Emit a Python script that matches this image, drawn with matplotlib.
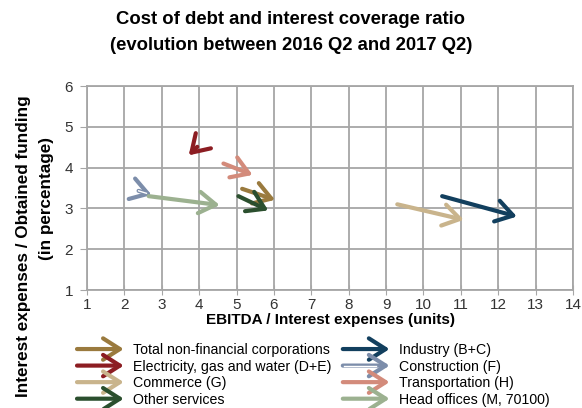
import matplotlib
matplotlib.use("Agg")
import matplotlib.pyplot as plt
from matplotlib.patches import FancyArrowPatch
from matplotlib.legend_handler import HandlerBase
from matplotlib.lines import Line2D

plt.rcParams['font.family'] = ['Liberation Sans Narrow', 'Liberation Sans', 'DejaVu Sans']

# sectors: start (2016 Q2) -> end (2017 Q2)
sectors = ["Total non-financial corporations", "Electricity, gas and water (D+E)",
           "Commerce (G)", "Other services",
           "Industry (B+C)", "Construction (F)",
           "Transportation (H)", "Head offices (M, 70100)"]
colors = ["#9A7A3E", "#8C1D22", "#C9B48C", "#2B4F2E",
          "#123F5E", "#7C8DAA", "#D38B7B", "#9CB190"]
x_start = [5.15, 3.95, 9.3, 5.05, 10.5, 2.38, 4.65, 2.65]
y_start = [3.48, 4.51, 3.1, 3.3, 3.3, 3.43, 4.1, 3.3]
x_end = [6.03, 3.72, 11.08, 5.85, 12.5, 2.73, 5.43, 4.55]
y_end = [3.21, 4.3, 2.72, 2.95, 2.8, 3.33, 3.82, 3.08]
hollow = [False, False, False, False, False, True, False, False]

ARROW = "->,head_length=0.55,head_width=0.35"
MS = 22
LW = 3.0


class ArrowHandler(HandlerBase):
    def create_artists(self, legend, orig_handle, xdescent, ydescent,
                       width, height, fontsize, trans):
        y = height / 2 - ydescent
        x0, x1 = -xdescent, -xdescent + width
        arr = FancyArrowPatch((x0, y), (x1, y), arrowstyle=ARROW, mutation_scale=MS,
                              lw=LW, color=orig_handle.get_edgecolor(),
                              shrinkA=0, shrinkB=0, transform=trans)
        out = [arr]
        if getattr(orig_handle, "hollow", False):
            out.append(Line2D([x0 + 1, x1 - 10], [y, y], color="white", lw=1.0, transform=trans))
        return out


fig = plt.figure(figsize=(5.82, 4.08), dpi=100)
ax = fig.add_axes([87 / 582, 1 - 290 / 408, (573 - 87) / 582, (290 - 86) / 408])

handles = []
for i, name in enumerate(sectors):
    ax.annotate("", xy=(x_end[i], y_end[i]), xytext=(x_start[i], y_start[i]),
                arrowprops=dict(arrowstyle=ARROW, mutation_scale=MS, lw=LW,
                                color=colors[i], shrinkA=0, shrinkB=0))
    if hollow[i]:
        ax.plot([x_start[i], x_start[i] + 0.6 * (x_end[i] - x_start[i])],
                [y_start[i], y_start[i] + 0.6 * (y_end[i] - y_start[i])],
                color="white", lw=1.0, zorder=5)
    h = FancyArrowPatch((0, 0), (1, 0), color=colors[i])
    h.hollow = hollow[i]
    handles.append(h)

ax.set_xlim(1, 14)
ax.set_ylim(1, 6)
ax.set_xticks(range(1, 15))
ax.set_yticks(range(1, 7))
ax.grid(True, color="#A6A6A6", lw=1.3)
ax.set_axisbelow(True)
for s in ax.spines.values():
    s.set_color("#A6A6A6")
    s.set_linewidth(1.3)
ax.tick_params(axis="x", direction="inout", length=7, color="#A6A6A6", labelsize=11,
               labelcolor="#333333", pad=2)
ax.tick_params(axis="y", direction="out", length=5, color="#A6A6A6", labelsize=11,
               labelcolor="#333333", pad=5)

ax.set_xlabel("EBITDA / Interest expenses (units)", fontsize=11, fontweight="bold", labelpad=1)

fig.text(0.5, 1 - 20 / 408, "Cost of debt and interest coverage ratio", ha="center", va="center",
         fontsize=13.3, fontweight="bold")
fig.text(0.5, 1 - 45 / 408, "(evolution between 2016 Q2 and 2017 Q2)", ha="center", va="center",
         fontsize=13.3, fontweight="bold")
fig.text(24 / 582, 1 - 246 / 408, "Interest expenses / Obtained funding", rotation=90,
         ha="center", va="center", fontsize=12.3, fontweight="bold")
fig.text(46 / 582, 1 - 199 / 408, "(in percentage)", rotation=90,
         ha="center", va="center", fontsize=12.3, fontweight="bold")

fig.legend(handles, sectors, handler_map={FancyArrowPatch: ArrowHandler()},
           loc="upper left", bbox_to_anchor=(77 / 582, 1 - 343 / 408), ncol=2, frameon=False,
           fontsize=10.2, handlelength=3.3, handletextpad=0.66, labelspacing=0.18,
           columnspacing=0.8, borderaxespad=0, borderpad=0)

fig.savefig("out.png", dpi=100)
